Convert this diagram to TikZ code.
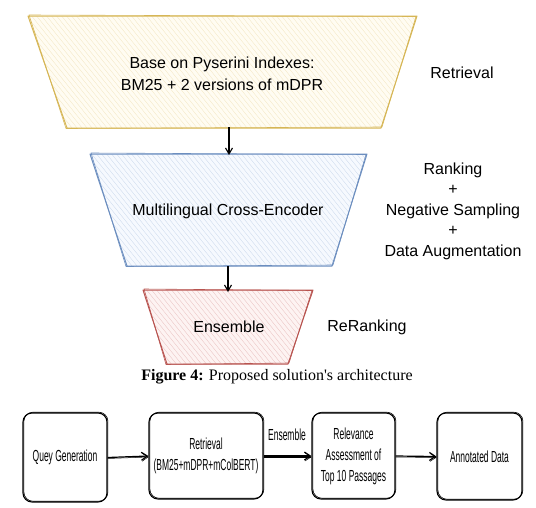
\documentclass[tikz,border=0pt]{standalone}
\usepackage{fontspec}
\setmainfont{Liberation Sans}
\newfontfamily\capfont{Liberation Serif}
\newfontfamily\narrowfont[FakeStretch=0.53]{Liberation Sans}
\usetikzlibrary{arrows.meta}
\definecolor{ystroke}{HTML}{D6B656}
\definecolor{yfill}{HTML}{FFF2CC}
\definecolor{bstroke}{HTML}{6C8EBF}
\definecolor{bfill}{HTML}{DAE8FC}
\definecolor{rstroke}{HTML}{B85450}
\definecolor{rfill}{HTML}{F8CECC}
\newcommand\sketchtrap[8]{%
  \fill[#2, opacity=0.25] (#3,#5) -- (#4,#5) -- (#7,#8) -- (#6,#8) -- cycle;
  \begin{scope}
    \clip (#3,#5) -- (#4,#5) -- (#7,#8) -- (#6,#8) -- cycle;
    \foreach \k in {-160,-155,...,460} \draw[#1, opacity=0.3, line width=0.35pt] (\k,#5-2) -- ++(105,130);
  \end{scope}
  \draw[#1, line width=1pt, line join=round] (#3,#5) -- (#4,#5) -- (#7,#8) -- (#6,#8) -- cycle;
  \draw[#1, line width=0.6pt, line join=round] (#3+1,#5-1) -- (#4-1,#5+0.5) -- (#7+1,#8-1) -- (#6-1,#8+0.5) -- cycle;
}
\begin{document}
\begin{tikzpicture}[x=1pt,y=-1pt,
  lbl/.style={font=\fontsize{16}{20.5}\selectfont, align=center, inner sep=0pt},
  arr/.style={-{Straight Barb[length=6pt,width=7pt]}, line width=1.1pt},
  sbox/.style={draw, rounded corners=9pt, line width=1.1pt, align=center, inner sep=1pt,
     font=\narrowfont\fontsize{16}{21}\selectfont,
     postaction={draw, line width=0.6pt, transform canvas={shift={(0.9pt,0.8pt)}}}},
  barr/.style={-{Straight Barb[length=6pt,width=8pt]}, line width=1.2pt,
     postaction={draw, line width=0.5pt, transform canvas={shift={(0pt,-1pt)}}}}
]
\useasboundingbox (0,0) rectangle (536,507);

% trapezoids
\sketchtrap{ystroke}{yfill}{28}{417}{16}{67}{381}{128}
\sketchtrap{bstroke}{bfill}{90}{367}{154}{127}{332}{266}
\sketchtrap{rstroke}{rfill}{143}{313}{290}{167}{288}{364}

\node[lbl, font=\fontsize{16}{22}\selectfont] (t1) at (222,74) {Base on Pyserini Indexes:\\BM25 + 2 versions of mDPR};
\node[lbl] (t2) at (228,211) {Multilingual Cross-Encoder};
\node[lbl] (t3) at (229,327) {Ensemble};

\node[lbl] (l1) at (462,73) {Retrieval};
\node[lbl] (l2) at (453,211) {Ranking\\+\\Negative Sampling\\+\\Data Augmentation};
\node[lbl] (l3) at (367,327) {ReRanking};

\coordinate (t1b) at (229,127);
\coordinate (t2t) at (229,155);
\coordinate (t2b) at (228,266);
\coordinate (t3t) at (228,292);
\draw[arr] (t1b) -- (t2t);
\draw[arr] (t2b) -- (t3t);

\node[inner sep=0pt, font=\capfont\fontsize{16}{18}\selectfont] (cap) at (277,377) {\textbf{Figure 4:} Proposed solution's architecture};

% bottom flow
\node[sbox, minimum width=84pt, minimum height=89pt] (q) at (65,457.5) {Quey Generation};
\node[sbox, minimum width=114pt, minimum height=86pt] (r) at (206,456) {Retrieval\\(BM25+mDPR+mColBERT)};
\node[sbox, minimum width=83pt, minimum height=86pt] (a) at (353.5,456) {Relevance\\Assessment of\\Top 10 Passages};
\node[sbox, minimum width=85pt, minimum height=87pt] (d) at (479.5,456.5) {Annotated Data};

\draw[barr] (q.east) -- (r.west);
\draw[barr] (r.east) -- (a.west);
\draw[barr] (a.east) -- (d.west);
\node[font=\narrowfont\fontsize{16}{18}\selectfont, inner sep=0pt] (ens) at (287,435) {Ensemble};
\end{tikzpicture}
\end{document}
